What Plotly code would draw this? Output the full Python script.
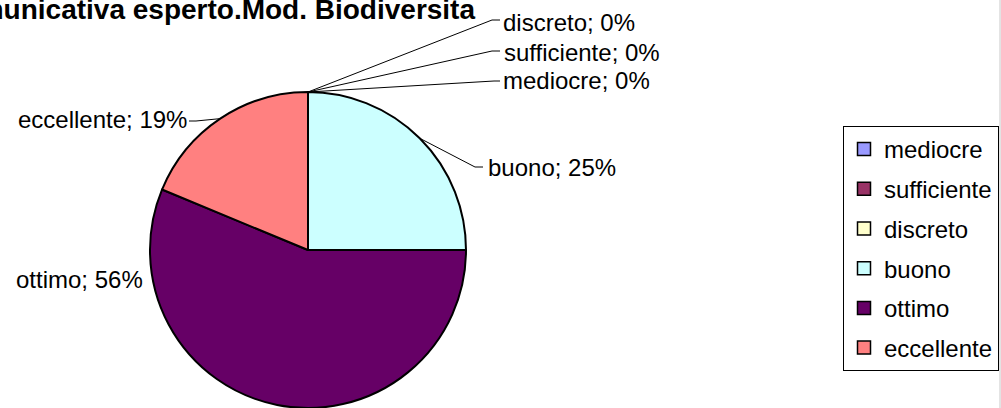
import math
import plotly.graph_objects as go

W, H = 1001, 408

# ---- data ----
categories = ["mediocre", "sufficiente", "discreto", "buono", "ottimo", "eccellente"]
counts = [0, 0, 0, 4, 9, 3]
colors = ["#9999FF", "#993366", "#FFFFCC", "#CCFFFF", "#660066", "#FF8080"]
title_text = "comunicativa esperto.Mod. Biodiversita"

total = sum(counts)
percents = [round(100 * v / total) for v in counts]

# ---- layout (pixels) ----
PIE_L, PIE_R, PIE_T, PIE_B = 150, 466, 92, 408
CX, CY = (PIE_L + PIE_R) / 2, (PIE_T + PIE_B) / 2
R = (PIE_R - PIE_L) / 2
FONT = "Liberation Sans, Arial, sans-serif"

# text anchor (x, y), x-anchor, elbow points for leader lines (None = no leader)
label_pos = {
    "mediocre":    ((501, 81), "left",  [(494, 81), (500, 81)]),
    "sufficiente": ((502, 52), "left",  [(492, 51), (500, 51)]),
    "discreto":    ((501, 22), "left",  [(492, 20), (500, 20)]),
    "buono":       ((486, 167), "left", [(475, 167), (483, 167)]),
    "ottimo":      ((145, 279), "right", None),
    "eccellente":  ((189, 119), "right", [(196, 121), (189, 121)]),
}


def px(x, y):
    return x / W, 1 - y / H


fig = go.Figure()
fig.add_trace(go.Pie(
    labels=categories, values=counts, sort=False, direction="clockwise",
    rotation=0, textinfo="none", showlegend=False, hoverinfo="label+percent",
    marker=dict(colors=colors, line=dict(color="black", width=2)),
    domain=dict(x=[PIE_L / W, PIE_R / W], y=[1 - PIE_B / H, 1 - PIE_T / H]),
))

# legend entries (dummy traces so each item gets its own group / spacing)
for cat, col in zip(categories, colors):
    fig.add_trace(go.Scatter(
        x=[None], y=[None], mode="markers", name=cat, legendgroup=cat,
        marker=dict(symbol="square", size=13, color=col,
                    line=dict(color="black", width=1.5)),
    ))

shapes = []
annotations = []
cum = 0.0
for cat, v, p in zip(categories, counts, percents):
    frac = v / total
    theta = 2 * math.pi * (cum + frac / 2)
    cum += frac
    ex, ey = CX + R * math.sin(theta), CY - R * math.cos(theta)
    (tx, ty), anchor, elbow = label_pos[cat]
    if elbow:
        pts = [(ex, ey)] + elbow
        for (x0, y0), (x1, y1) in zip(pts[:-1], pts[1:]):
            a0, b0 = px(x0, y0)
            a1, b1 = px(x1, y1)
            shapes.append(dict(type="line", xref="paper", yref="paper",
                               x0=a0, y0=b0, x1=a1, y1=b1,
                               line=dict(color="black", width=1)))
    ax, ay = px(tx, ty)
    annotations.append(dict(
        text=f"{cat}; {p}%", x=ax, y=ay, xref="paper", yref="paper",
        xanchor=anchor, yanchor="middle", showarrow=False,
        font=dict(family=FONT, size=24, color="black"),
    ))

# title (cut at the top / left as in the original)
tx, ty = px(477, 9)
annotations.append(dict(
    text=f"<b>{title_text}</b>", x=tx, y=ty, xref="paper", yref="paper",
    xanchor="right", yanchor="middle", showarrow=False,
    font=dict(family=FONT, size=28, color="black"),
))

# right chart-area border
shapes.append(dict(type="line", xref="paper", yref="paper",
                   x0=1000 / W, x1=1000 / W, y0=0, y1=1,
                   line=dict(color="#C8C8C8", width=1)))

lx, ly = px(843, 126)
fig.update_layout(
    width=W, height=H,
    margin=dict(l=0, r=0, t=0, b=0),
    paper_bgcolor="white", plot_bgcolor="white",
    xaxis=dict(visible=False), yaxis=dict(visible=False),
    shapes=shapes, annotations=annotations,
    legend=dict(x=lx, y=ly, xanchor="left", yanchor="top",
                bordercolor="black", borderwidth=1, bgcolor="white",
                traceorder="grouped", tracegroupgap=5.5,
                font=dict(family=FONT, size=24, color="black"),
                itemwidth=30),
    font=dict(family=FONT),
)

fig.write_html("out.html",
               config={"displayModeBar": False},
               post_script="document.body.style.margin='0';"
                           "document.body.style.overflow='hidden';")
